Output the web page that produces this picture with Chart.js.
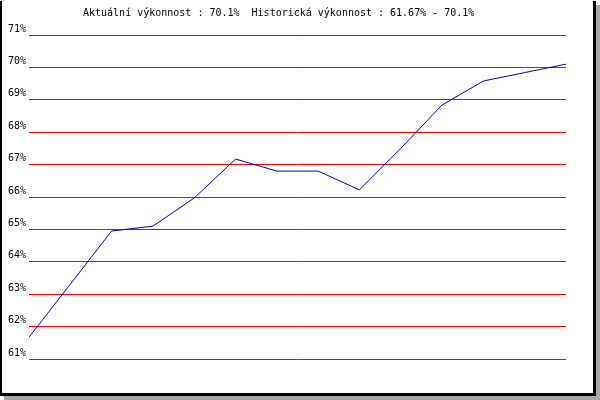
<!DOCTYPE html>
<html>
<head>
<meta charset="utf-8">
<script src="https://cdn.jsdelivr.net/npm/chart.js@4/dist/chart.umd.min.js"></script>
<style>
  body { margin: 0; background: #fff; }
  #wrap { position: relative; width: 600px; height: 400px; overflow: hidden; }
  #frame {
    position: absolute; left: 0; top: 1px;
    width: 591px; height: 392px;
    border-left: 2px solid #000; border-right: 3px solid #000; border-bottom: 3px solid #000;
    box-shadow: 4px 4px 0 #a8a8a8; background: #fff;
  }
  #title {
    position: absolute; left: 83px; top: 7px;
    font: 10px "DejaVu Sans Mono", monospace; white-space: pre; color: #000;
  }
  canvas { position: absolute; left: 0; top: 0; }
</style>
</head>
<body>
<div id="wrap">
  <div id="frame"></div>
  <canvas id="chart" width="600" height="400"></canvas>
  <div id="title">Aktuální výkonnost : 70.1%  Historická výkonnost : 61.67% - 70.1%</div>
</div>
<script>
// one value per period, left to right
const periods = ['1', '2', '3', '4', '5', '6', '7', '8', '9', '10', '11', '12', '13', '14'];
const performance = [61.67, 63.31, 64.95, 65.1, 65.97, 67.17, 66.8, 66.8, 66.22, 67.5, 68.84, 69.58, 69.84, 70.1];
const yTicks = [61, 62, 63, 64, 65, 66, 67, 68, 69, 70, 71];

const ctx = document.getElementById('chart').getContext('2d');
new Chart(ctx, {
  type: 'line',
  data: {
    labels: periods,
    datasets: [{
      data: performance,
      borderColor: 'rgb(0, 0, 200)',
      borderWidth: 1,
      pointRadius: 0,
      tension: 0,
      fill: false
    }]
  },
  options: {
    responsive: false,
    animation: false,
    devicePixelRatio: 1,
    layout: { padding: { left: 0, top: 35, right: 34, bottom: 41 } },
    plugins: { legend: { display: false }, tooltip: { enabled: false }, title: { display: false } },
    scales: {
      x: { display: false },
      y: {
        min: yTicks[0],
        max: yTicks[yTicks.length - 1],
        afterFit: (scale) => { scale.width = 29; },
        afterBuildTicks: (scale) => { scale.ticks = yTicks.map(v => ({ value: v })); },
        border: { display: false },
        grid: { color: '#ff0000', lineWidth: 1, drawTicks: false },
        ticks: {
          padding: 3,
          labelOffset: -6,
          color: '#000',
          font: { family: 'DejaVu Sans Mono', size: 10 },
          callback: (v) => v + '%'
        }
      }
    }
  }
});
</script>
</body>
</html>
